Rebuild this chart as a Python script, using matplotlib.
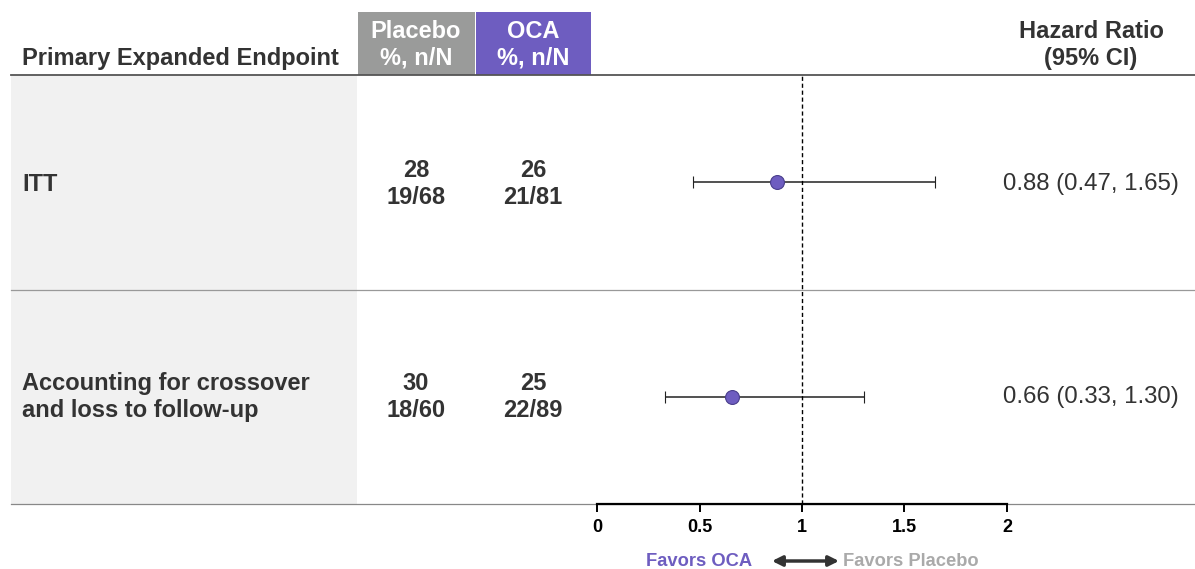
import matplotlib.pyplot as plt
from matplotlib.patches import Rectangle

plt.rcParams['font.family'] = ['Liberation Sans', 'DejaVu Sans']

# table data
endpoints = ["ITT", "Accounting for crossover\nand loss to follow-up"]
placebo_pct = [28, 30]
placebo_nN = ["19/68", "18/60"]
oca_pct = [26, 25]
oca_nN = ["21/81", "22/89"]
hr = [0.88, 0.66]
ci_low = [0.47, 0.33]
ci_high = [1.65, 1.30]
xticks = [0, 0.5, 1, 1.5, 2]

purple = "#6E5DC0"
gray_hdr = "#9A9B9A"
dark = "#333333"
fs = 17
ls = 1.22

W, H = 1195, 569
fig = plt.figure(figsize=(W / 100, H / 100), dpi=100)

# background axes in pixel coordinates for the table part
bg = fig.add_axes([0, 0, 1, 1])
bg.set_xlim(0, W)
bg.set_ylim(H, 0)
bg.axis("off")

top, mid, bot = 75, 290, 504
bg.add_patch(Rectangle((11, top), 346, bot - top, color="#F1F1F1", lw=0))
bg.add_patch(Rectangle((358, 12), 117, top - 12, color=gray_hdr, lw=0))
bg.add_patch(Rectangle((476, 12), 115, top - 12, color=purple, lw=0))

bg.plot([11, W], [top, top], color="#555555", lw=1.3)
bg.plot([11, W], [mid, mid], color="#999999", lw=0.9)
bg.plot([11, W], [bot, bot], color="#888888", lw=0.9)

# headers
bg.text(22, 58, "Primary Expanded Endpoint", fontsize=fs, fontweight="bold",
        color=dark, va="center", ha="left")
bg.text(416, 45, "Placebo\n%, n/N", fontsize=fs, fontweight="bold", color="white",
        ha="center", va="center", linespacing=ls)
bg.text(533, 45, "OCA\n%, n/N", fontsize=fs, fontweight="bold", color="white",
        ha="center", va="center", linespacing=ls)
bg.text(1091, 45, "Hazard Ratio\n(95% CI)", fontsize=fs, fontweight="bold",
        color=dark, ha="center", va="center", linespacing=ls)

row_y = [184, 397]
for i in range(len(endpoints)):
    y = row_y[i]
    bg.text(22, y, endpoints[i], fontsize=fs, fontweight="bold", color=dark,
            ha="left", va="center", linespacing=1.18)
    bg.text(416, y, f"{placebo_pct[i]}\n{placebo_nN[i]}", fontsize=fs,
            fontweight="bold", color=dark, ha="center", va="center", linespacing=ls)
    bg.text(533, y, f"{oca_pct[i]}\n{oca_nN[i]}", fontsize=fs,
            fontweight="bold", color=dark, ha="center", va="center", linespacing=ls)
    bg.text(1003, y, f"{hr[i]:.2f} ({ci_low[i]:.2f}, {ci_high[i]:.2f})",
            fontsize=17.3, color=dark, ha="left", va="center")

# forest plot axes
x0, x1 = 597, 1007
ax = fig.add_axes([x0 / W, (H - bot) / H, (x1 - x0) / W, (bot - top) / H])
ax.patch.set_alpha(0)
ax.set_xlim(0, 2)
ax.set_ylim(2, 0)
ypos = [0.5, 1.5]
for i in range(len(hr)):
    ax.errorbar(hr[i], ypos[i], xerr=[[hr[i] - ci_low[i]], [ci_high[i] - hr[i]]],
                fmt="o", color="#222222", ecolor="#222222", elinewidth=1.1,
                capsize=4, capthick=1.2, markersize=10,
                markerfacecolor=purple, markeredgecolor="#4A3F8C", markeredgewidth=0.8)
ax.axvline(1, color="black", ls=(0, (3, 2)), lw=1)
for s in ["top", "right", "left"]:
    ax.spines[s].set_visible(False)
ax.spines["bottom"].set_linewidth(1.6)
ax.spines["bottom"].set_color("black")
ax.set_yticks([])
ax.set_xticks(xticks)
ax.set_xticklabels([f"{t:g}" for t in xticks], fontsize=13, fontweight="bold")
ax.tick_params(axis="x", length=6, width=1.4, pad=5)

# favors labels
bg.text(752, 561, "Favors OCA", fontsize=13.2, fontweight="bold", color=purple,
        ha="right", va="center")
bg.text(843, 561, "Favors Placebo", fontsize=13.2, fontweight="bold", color="#AAAAAA",
        ha="left", va="center")
bg.annotate("", xy=(839, 561), xytext=(772, 561),
            arrowprops=dict(arrowstyle="<|-|>", color="#333333", lw=2.5,
                            mutation_scale=15, shrinkA=0, shrinkB=0))

fig.savefig("out.png", dpi=100)
